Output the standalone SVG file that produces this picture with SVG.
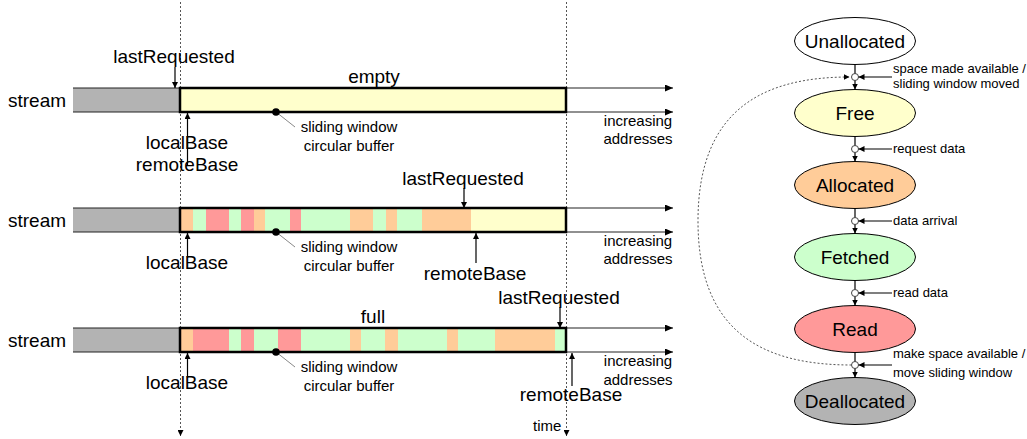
<svg xmlns="http://www.w3.org/2000/svg" width="1027" height="439" viewBox="0 0 1027 439">
  <style>
    text { font-family: "Liberation Sans", Arial, sans-serif; fill: #000; }
    .lbl { font-size: 19px; }
    .sm { font-size: 15px; }
    .ev { font-size: 13px; }
    .mid { text-anchor: middle; }
    .axis { stroke: #222; stroke-width: 1.2; fill: none; }
    .outline { fill: none; stroke: #000; stroke-width: 2.5; }
    .ptr { stroke: #000; stroke-width: 1.2; fill: none; }
    .guide { stroke: #555; stroke-width: 1; stroke-dasharray: 2 2; fill: none; }
    .leader { stroke: #888; stroke-width: 1; }
    .gray { fill: #b3b3b3; }
    .free { fill: #ffffcc; }
    .alloc { fill: #ffcc99; }
    .fetch { fill: #ccffcc; }
    .read { fill: #ff9999; }
    .state { stroke: #000; stroke-width: 1; }
    .junction { fill: #fff; stroke: #444; stroke-width: 1; }
  </style>
  <defs>
    <marker id="arr" markerUnits="userSpaceOnUse" markerWidth="8" markerHeight="7" refX="8" refY="3.5" orient="auto">
      <path d="M0,0 L8,3.5 L0,7 z" fill="#000"/>
    </marker>
    <marker id="arrS" markerUnits="userSpaceOnUse" markerWidth="6" markerHeight="6" refX="6" refY="3" orient="auto">
      <path d="M0,0 L6,3 L0,6 z" fill="#000"/>
    </marker>
  </defs>

  <!-- time guides -->
  <g id="time-guides">
    <line class="guide" x1="180.5" y1="2" x2="180.5" y2="436" marker-end="url(#arrS)"/>
    <line class="guide" x1="566.5" y1="2" x2="566.5" y2="436" marker-end="url(#arrS)"/>
    <text class="sm" x="533" y="431">time</text>
  </g>

  <!-- stream 1: empty window -->
  <g id="stream-empty">
    <text class="lbl" x="8" y="107">stream</text>
    <rect class="gray" x="73" y="88" width="107" height="24"/>
    <line class="axis" x1="73" y1="88" x2="673" y2="88" marker-end="url(#arr)"/>
    <line class="axis" x1="73" y1="112" x2="673" y2="112" marker-end="url(#arr)"/>
    <rect class="free" x="180" y="88" width="386" height="24"/>
    <rect class="outline" x="180" y="88" width="386" height="24"/>
    <text class="lbl mid" x="374" y="83">empty</text>
    <text class="lbl mid" x="174" y="63">lastRequested</text>
    <text class="lbl mid" x="187" y="149">localBase</text>
    <text class="lbl mid" x="187" y="171">remoteBase</text>
    <line class="leader" x1="276" y1="112" x2="295" y2="127"/>
    <circle cx="276" cy="112" r="3.8" fill="#000"/>
    <text class="sm mid" x="349" y="132">sliding window</text>
    <text class="sm mid" x="349" y="151">circular buffer</text>
    <text class="sm mid" x="638" y="126">increasing</text>
    <text class="sm mid" x="638" y="144">addresses</text>
  </g>

  <!-- stream 2: partly filled window -->
  <g id="stream-partial">
    <text class="lbl" x="8" y="227">stream</text>
    <rect class="gray" x="73" y="208" width="107" height="24"/>
    <line class="axis" x1="73" y1="208" x2="673" y2="208" marker-end="url(#arr)"/>
    <line class="axis" x1="73" y1="232" x2="673" y2="232" marker-end="url(#arr)"/>
    <rect class="alloc" x="180" y="208" width="13" height="24"/>
    <rect class="fetch" x="193" y="208" width="13" height="24"/>
    <rect class="read" x="206" y="208" width="23" height="24"/>
    <rect class="fetch" x="229" y="208" width="12" height="24"/>
    <rect class="read" x="241" y="208" width="13" height="24"/>
    <rect class="alloc" x="254" y="208" width="11" height="24"/>
    <rect class="fetch" x="265" y="208" width="25" height="24"/>
    <rect class="read" x="290" y="208" width="11" height="24"/>
    <rect class="fetch" x="301" y="208" width="49" height="24"/>
    <rect class="alloc" x="350" y="208" width="23" height="24"/>
    <rect class="fetch" x="373" y="208" width="13" height="24"/>
    <rect class="alloc" x="386" y="208" width="11" height="24"/>
    <rect class="fetch" x="397" y="208" width="25" height="24"/>
    <rect class="alloc" x="422" y="208" width="49" height="24"/>
    <rect class="free" x="471" y="208" width="95" height="24"/>
    <rect class="outline" x="180" y="208" width="386" height="24"/>
    <text class="lbl mid" x="463" y="185">lastRequested</text>
    <text class="lbl mid" x="187" y="269">localBase</text>
    <text class="lbl mid" x="475" y="280">remoteBase</text>
    <line class="leader" x1="276" y1="232" x2="295" y2="247"/>
    <circle cx="276" cy="232" r="3.8" fill="#000"/>
    <text class="sm mid" x="349" y="252">sliding window</text>
    <text class="sm mid" x="349" y="271">circular buffer</text>
    <text class="sm mid" x="638" y="246">increasing</text>
    <text class="sm mid" x="638" y="264">addresses</text>
  </g>

  <!-- stream 3: full window -->
  <g id="stream-full">
    <text class="lbl" x="8" y="347">stream</text>
    <rect class="gray" x="73" y="328" width="107" height="24"/>
    <line class="axis" x1="73" y1="328" x2="673" y2="328" marker-end="url(#arr)"/>
    <line class="axis" x1="73" y1="352" x2="673" y2="352" marker-end="url(#arr)"/>
    <rect class="alloc" x="180" y="328" width="13" height="24"/>
    <rect class="read" x="193" y="328" width="36" height="24"/>
    <rect class="fetch" x="229" y="328" width="12" height="24"/>
    <rect class="read" x="241" y="328" width="13" height="24"/>
    <rect class="fetch" x="254" y="328" width="24" height="24"/>
    <rect class="read" x="278" y="328" width="23" height="24"/>
    <rect class="fetch" x="301" y="328" width="49" height="24"/>
    <rect class="alloc" x="350" y="328" width="11" height="24"/>
    <rect class="fetch" x="361" y="328" width="24" height="24"/>
    <rect class="alloc" x="385" y="328" width="13" height="24"/>
    <rect class="fetch" x="398" y="328" width="49" height="24"/>
    <rect class="alloc" x="447" y="328" width="11" height="24"/>
    <rect class="fetch" x="458" y="328" width="37" height="24"/>
    <rect class="alloc" x="495" y="328" width="60" height="24"/>
    <rect class="fetch" x="555" y="328" width="11" height="24"/>
    <rect class="outline" x="180" y="328" width="386" height="24"/>
    <text class="lbl mid" x="373" y="323">full</text>
    <text class="lbl mid" x="559" y="304">lastRequested</text>
    <text class="lbl mid" x="187" y="389">localBase</text>
    <text class="lbl mid" x="571" y="401">remoteBase</text>
    <line class="leader" x1="276" y1="352" x2="295" y2="367"/>
    <circle cx="276" cy="352" r="3.8" fill="#000"/>
    <text class="sm mid" x="349" y="372">sliding window</text>
    <text class="sm mid" x="349" y="391">circular buffer</text>
    <text class="sm mid" x="638" y="366">increasing</text>
    <text class="sm mid" x="638" y="385">addresses</text>
  </g>

  <!-- pointer arrows onto the streams -->
  <g id="pointers">
    <line class="ptr" x1="175" y1="67" x2="175" y2="88" marker-end="url(#arrS)"/>
    <line class="ptr" x1="187.5" y1="166" x2="187.5" y2="113" marker-end="url(#arrS)"/>
    <line class="ptr" x1="464" y1="188" x2="464" y2="208" marker-end="url(#arrS)"/>
    <line class="ptr" x1="187.5" y1="258" x2="187.5" y2="233" marker-end="url(#arrS)"/>
    <line class="ptr" x1="476" y1="263" x2="476" y2="233" marker-end="url(#arrS)"/>
    <line class="ptr" x1="560" y1="307" x2="560" y2="328" marker-end="url(#arrS)"/>
    <line class="ptr" x1="187.5" y1="378" x2="187.5" y2="353" marker-end="url(#arrS)"/>
    <line class="ptr" x1="572" y1="386" x2="572" y2="353" marker-end="url(#arrS)"/>
  </g>

  <!-- state machine nodes -->
  <g id="state-unallocated">
    <ellipse class="state" cx="855" cy="41" rx="60.5" ry="23.5" fill="#fff"/>
    <text class="lbl mid" x="855" y="48">Unallocated</text>
  </g>
  <g id="state-free">
    <ellipse class="state free" cx="855" cy="113" rx="60.5" ry="23.5"/>
    <text class="lbl mid" x="855" y="120">Free</text>
  </g>
  <g id="state-allocated">
    <ellipse class="state alloc" cx="855" cy="185" rx="60.5" ry="23.5"/>
    <text class="lbl mid" x="855" y="192">Allocated</text>
  </g>
  <g id="state-fetched">
    <ellipse class="state fetch" cx="855" cy="257" rx="60.5" ry="23.5"/>
    <text class="lbl mid" x="855" y="264">Fetched</text>
  </g>
  <g id="state-read">
    <ellipse class="state read" cx="855" cy="329" rx="60.5" ry="23.5"/>
    <text class="lbl mid" x="855" y="336">Read</text>
  </g>
  <g id="state-deallocated">
    <ellipse class="state gray" cx="855" cy="401" rx="60.5" ry="23.5"/>
    <text class="lbl mid" x="855" y="408">Deallocated</text>
  </g>

  <!-- transitions -->
  <g id="transitions">
    <path class="guide" d="M851.5,365 C760,365 698,330 698,221 C698,112 760,77 849.5,77" marker-end="url(#arrS)"/>
    <line class="ptr" x1="855" y1="64.5" x2="855" y2="89.5" marker-end="url(#arrS)"/>
    <line class="ptr" x1="855" y1="136.5" x2="855" y2="161.5" marker-end="url(#arrS)"/>
    <line class="ptr" x1="855" y1="208.5" x2="855" y2="233.5" marker-end="url(#arrS)"/>
    <line class="ptr" x1="855" y1="280.5" x2="855" y2="305.5" marker-end="url(#arrS)"/>
    <line class="ptr" x1="855" y1="352.5" x2="855" y2="377.5" marker-end="url(#arrS)"/>
    <circle class="junction" cx="855" cy="77" r="3.5"/>
    <circle class="junction" cx="855" cy="149" r="3.5"/>
    <circle class="junction" cx="855" cy="221" r="3.5"/>
    <circle class="junction" cx="855" cy="293" r="3.5"/>
    <circle class="junction" cx="855" cy="365" r="3.5"/>
    <line class="ptr" x1="892" y1="77" x2="858.5" y2="77" marker-end="url(#arrS)"/>
    <line class="ptr" x1="892" y1="149" x2="858.5" y2="149" marker-end="url(#arrS)"/>
    <line class="ptr" x1="892" y1="221" x2="858.5" y2="221" marker-end="url(#arrS)"/>
    <line class="ptr" x1="892" y1="293" x2="858.5" y2="293" marker-end="url(#arrS)"/>
    <line class="ptr" x1="892" y1="365" x2="858.5" y2="365" marker-end="url(#arrS)"/>
    <text class="ev" x="893" y="73">space made available /</text>
    <text class="ev" x="893" y="88">sliding window moved</text>
    <text class="ev" x="893" y="153">request data</text>
    <text class="ev" x="893" y="225">data arrival</text>
    <text class="ev" x="893" y="297">read data</text>
    <text class="ev" x="893" y="358">make space available /</text>
    <text class="ev" x="893" y="377">move sliding window</text>
  </g>
</svg>
